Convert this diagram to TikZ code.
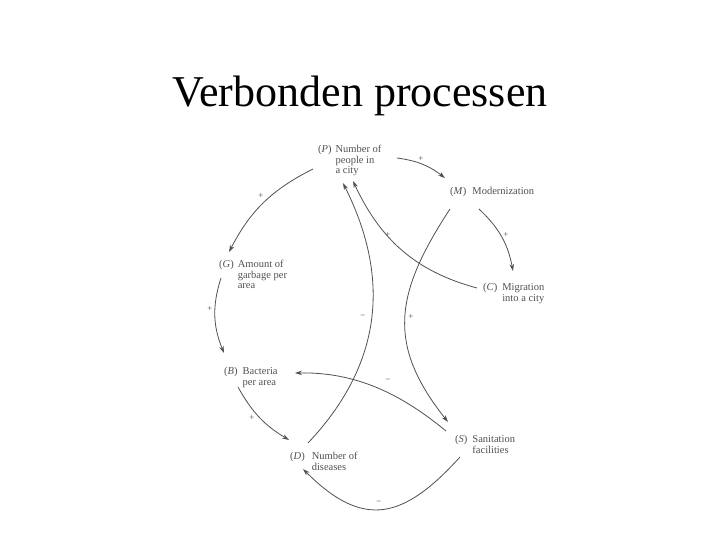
\documentclass[tikz,border=0pt]{standalone}
\usepackage{fontspec}
\setmainfont{Liberation Serif}
\usepackage{tikz}
\usetikzlibrary{arrows.meta}
\definecolor{ink}{RGB}{80,80,80}

\begin{document}
\begin{tikzpicture}[x=1pt,y=1pt,
   lbl/.style={anchor=north west,inner sep=0pt,text=ink,font=\fontsize{10.5}{10.5}\selectfont},
   sg/.style={text=ink,font=\fontsize{9}{9}\selectfont,inner sep=0pt},
   e/.style={draw=ink,line width=0.8pt,-{Stealth[length=7pt,width=4.5pt]}}]
\useasboundingbox (0,0) rectangle (720,540);
\node[anchor=base,font=\fontsize{44}{48}\selectfont] (title) at (360,433) {Verbonden processen};
%% ---- variables ----
\node[lbl] (P) at (318,395) {\begin{tabular}{@{}l@{\hspace{4pt}}l@{}}(\textit{P})&Number of\\&people in\\&a city\end{tabular}};
\node[lbl] (M) at (450,353) {\begin{tabular}{@{}l@{\hspace{6pt}}l@{}}(\textit{M})&Modernization\end{tabular}};
\node[lbl] (G) at (219,280) {\begin{tabular}{@{}l@{\hspace{4pt}}l@{}}(\textit{G})&Amount of\\&garbage per\\&area\end{tabular}};
\node[lbl] (C) at (483,257) {\begin{tabular}{@{}l@{\hspace{5pt}}l@{}}(\textit{C})&Migration\\&into a city\end{tabular}};
\node[lbl] (B) at (224,173) {\begin{tabular}{@{}l@{\hspace{5pt}}l@{}}(\textit{B})&Bacteria\\&per area\end{tabular}};
\node[lbl] (D) at (290,88) {\begin{tabular}{@{}l@{\hspace{7pt}}l@{}}(\textit{D})&Number of\\&diseases\end{tabular}};
\node[lbl] (S) at (455,105) {\begin{tabular}{@{}l@{\hspace{5pt}}l@{}}(\textit{S})&Sanitation\\&facilities\end{tabular}};
%% ---- links ----
\draw[e] ([shift={(79,-13)}]P.north west) to[bend left=15] ([shift={(-5,9)}]M.north west);
\draw[e] ([shift={(-5,-24)}]P.north west) to[bend right=18] ([shift={(10,8)}]G.north west);
\draw[e] ([shift={(29,-22)}]M.north west) to[bend left=18] ([shift={(30,12)}]C.north west);
\draw[e] ([shift={(-6,-5)}]C.north west) to[out=165,in=-65] ([shift={(35,-36)}]P.north west);
\draw[e] ([shift={(18,9)}]D.north west) .. controls +(85,90) and +(40,-80) .. ([shift={(25,-38)}]P.north west);
\draw[e] ([shift={(0,-22)}]M.north west) .. controls +(-55,-84) and +(-62,78) .. ([shift={(-7,13)}]S.north west);
\draw[e] ([shift={(-9,4)}]S.north west) .. controls +(-46,38) and +(60,1) .. ([shift={(71,-6)}]B.north west);
\draw[e] ([shift={(2,-18)}]G.north west) to[bend right=20] ([shift={(0,14)}]B.north west);
\draw[e] ([shift={(14,-20)}]B.north west) to[bend right=15] ([shift={(-1,12)}]D.north west);
\draw[e] ([shift={(5,-22)}]S.north west) .. controls +(-57,-63) and +(60,-60) .. ([shift={(13,-17)}]D.north west);
%% ---- signs ----
\node[sg] (sPM) at (421,381) {+};
\node[sg] (sPG) at (261,344) {+};
\node[sg] (sMC) at (506,305) {+};
\node[sg] (sCP) at (388,305) {+};
\node[sg] (sDP) at (363,223) {−};
\node[sg] (sMS) at (411,223) {+};
\node[sg] (sSB) at (388,159) {−};
\node[sg] (sGB) at (210,231) {+};
\node[sg] (sBD) at (252,122) {+};
\node[sg] (sSD) at (379,37) {−};
\end{tikzpicture}
\end{document}
